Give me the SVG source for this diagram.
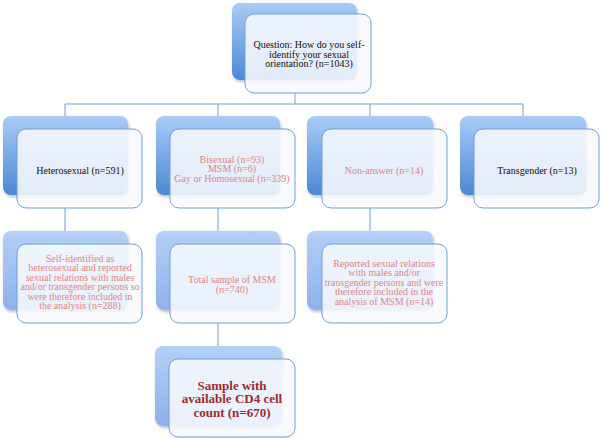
<svg xmlns="http://www.w3.org/2000/svg" width="600" height="439" viewBox="0 0 600 439">
<defs>
<linearGradient id="gDark" x1="0" y1="0" x2="0" y2="1">
<stop offset="0" stop-color="#a9cbf7"/>
<stop offset="1" stop-color="#4d88d3"/>
</linearGradient>
<linearGradient id="gLight" x1="0" y1="0" x2="0" y2="1">
<stop offset="0" stop-color="#b3d0f7"/>
<stop offset="1" stop-color="#8eb1ea"/>
</linearGradient>
<filter id="sh" x="-10%" y="-10%" width="130%" height="130%">
<feDropShadow dx="1" dy="2" stdDeviation="1.5" flood-color="#000" flood-opacity="0.25"/>
</filter>
</defs>
<style>
.back{filter:url(#sh)}
.front{fill:#f7f9fe;fill-opacity:0.88;stroke:#6f9fd8;stroke-width:1}
.conn{fill:none;stroke:#6f9fd8;stroke-width:1}
text{font-family:"Liberation Serif","Times New Roman",serif;font-size:10px;text-anchor:middle}
.blk{fill:#111}
.pnk{fill:#e08585}
.big{font-size:13px;font-weight:bold;fill:#9e2b2d}
</style>
<rect width="600" height="439" fill="#ffffff"/>
<g id="connectors">
<path class="conn" d="M295 93V104M65 104H523M65 104V116M218 104V116M370 104V116M523 104V116"/>
<path class="conn" d="M65 208V231M218 208V231M370 208V231M218 323V346"/>
</g>
<g id="question">
<rect class="back" x="232" y="3" width="125" height="77" rx="8" fill="url(#gDark)"/>
<rect class="front" x="245" y="14" width="126" height="79" rx="9"/>
<text class="blk" x="309" y="48">Question: How do you self-</text>
<text class="blk" x="309" y="57.5">identify your sexual</text>
<text class="blk" x="309" y="67">orientation? (n=1043)</text>
</g>
<g id="heterosexual">
<rect class="back" x="3" y="116" width="125" height="79" rx="8" fill="url(#gDark)"/>
<rect class="front" x="17" y="129" width="125" height="79" rx="9"/>
<text class="blk" x="80" y="173.5">Heterosexual (n=591)</text>
</g>
<g id="bisexual">
<rect class="back" x="156" y="116" width="124" height="79" rx="8" fill="url(#gDark)"/>
<rect class="front" x="170" y="129" width="125" height="79" rx="9"/>
<text class="pnk" x="232" y="162.5">Bisexual (n=93)</text>
<text class="pnk" x="232" y="172.2">MSM (n=6)</text>
<text class="pnk" x="232" y="181.9">Gay or Homosexual (n=339)</text>
</g>
<g id="nonanswer">
<rect class="back" x="307" y="116" width="126" height="79" rx="8" fill="url(#gDark)"/>
<rect class="front" x="322" y="129" width="125" height="79" rx="9"/>
<text class="pnk" x="384" y="173.5">Non-answer (n=14)</text>
</g>
<g id="transgender">
<rect class="back" x="460" y="116" width="126" height="79" rx="8" fill="url(#gDark)"/>
<rect class="front" x="474" y="129" width="125" height="79" rx="9"/>
<text class="blk" x="537" y="173.5">Transgender (n=13)</text>
</g>
<g id="selfidentified">
<rect class="back" x="3" y="231" width="125" height="79" rx="8" fill="url(#gLight)"/>
<rect class="front" x="17" y="244" width="125" height="79" rx="9"/>
<text class="pnk" x="80" y="261.5">Self-identified as</text>
<text class="pnk" x="80" y="271">heterosexual and reported</text>
<text class="pnk" x="80" y="280.5">sexual relations with males</text>
<text class="pnk" x="80" y="290">and/or transgender persons so</text>
<text class="pnk" x="80" y="299.5">were therefore included in</text>
<text class="pnk" x="80" y="309">the analysis (n=288)</text>
</g>
<g id="totalmsm">
<rect class="back" x="156" y="231" width="124" height="79" rx="8" fill="url(#gLight)"/>
<rect class="front" x="170" y="244" width="125" height="79" rx="9"/>
<text class="pnk" x="232" y="282.5">Total sample of MSM</text>
<text class="pnk" x="232" y="292.5">(n=740)</text>
</g>
<g id="reported">
<rect class="back" x="307" y="231" width="126" height="79" rx="8" fill="url(#gLight)"/>
<rect class="front" x="322" y="244" width="125" height="79" rx="9"/>
<text class="pnk" x="384" y="266.5">Reported sexual relations</text>
<text class="pnk" x="384" y="276">with males and/or</text>
<text class="pnk" x="384" y="285.5">transgender persons and were</text>
<text class="pnk" x="384" y="295">therefore included in the</text>
<text class="pnk" x="384" y="304.5">analysis of MSM (n=14)</text>
</g>
<g id="cd4sample">
<rect class="back" x="155" y="346" width="127" height="80" rx="8" fill="url(#gLight)"/>
<rect class="front" x="169" y="359" width="126" height="78" rx="9"/>
<text class="big" x="232" y="389.5">Sample with</text>
<text class="big" x="232" y="403">available CD4 cell</text>
<text class="big" x="232" y="416.5">count (n=670)</text>
</g>
</svg>
